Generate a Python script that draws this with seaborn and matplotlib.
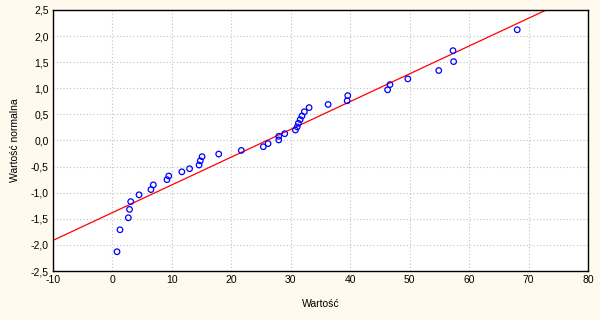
import matplotlib
matplotlib.use("Agg")
import matplotlib.pyplot as plt
import matplotlib.ticker as mticker
import seaborn as sns
import numpy as np
import pandas as pd

wartosc = [0.8, 1.3, 2.7, 2.9, 3.1, 4.5, 6.5, 6.9, 9.2, 9.5, 11.7, 13.0, 14.6, 14.8,
           15.1, 17.9, 21.7, 25.4, 26.2, 28.0, 28.0, 29.0, 30.8, 31.1, 31.3, 31.6,
           31.9, 32.3, 33.1, 36.3, 39.5, 39.6, 46.3, 46.7, 49.7, 54.9, 57.4, 57.3, 68.1]
normalna = [-2.13, -1.71, -1.48, -1.32, -1.17, -1.04, -0.94, -0.85, -0.75, -0.68,
            -0.60, -0.54, -0.47, -0.39, -0.31, -0.26, -0.19, -0.12, -0.06, 0.01,
            0.08, 0.13, 0.20, 0.26, 0.33, 0.40, 0.47, 0.55, 0.63, 0.69, 0.76, 0.86,
            0.97, 1.07, 1.18, 1.34, 1.51, 1.72, 2.12]
# reference line: normal score = (x - mean) / sd
line_mean = 26.0
line_sd = 18.8

df = pd.DataFrame({"x": wartosc, "z": normalna})

sns.set_style("white")
plt.rcParams['font.family'] = ['Liberation Sans', 'DejaVu Sans']
plt.rcParams['axes.unicode_minus'] = False
plt.rcParams['text.color'] = 'black'
plt.rcParams['axes.labelcolor'] = 'black'
plt.rcParams['xtick.color'] = 'black'
plt.rcParams['ytick.color'] = 'black'

fig = plt.figure(figsize=(6, 3.2), dpi=100, facecolor="#fffaed")
ax = fig.add_axes([0.088, 0.153, 0.892, 0.816])
ax.set_facecolor("white")

xl = np.array([-10, 80])
ax.plot(xl, (xl - line_mean) / line_sd, color="#ff0000", lw=0.9, zorder=2)
sns.scatterplot(data=df, x="x", y="z", ax=ax, marker="o", s=16,
                facecolor="none", edgecolor="#0000ff", linewidth=0.9, zorder=3)

ax.set_xlim(-10, 80)
ax.set_ylim(-2.5, 2.5)
ax.set_xticks(range(-10, 81, 10))
ax.set_yticks(np.arange(-2.5, 2.51, 0.5))
ax.yaxis.set_major_formatter(mticker.FuncFormatter(lambda v, p: f"{v:.1f}".replace(".", ",")))
ax.grid(True, color="#c0c0c0", linestyle=(0, (1, 2)), linewidth=0.8)
for s in ax.spines.values():
    s.set_color("black")
    s.set_linewidth(1)
ax.tick_params(labelsize=7.5, length=0, pad=3)
ax.set_xlabel("Wartość", fontsize=7.5, labelpad=10)
ax.set_ylabel("Wartość normalna", fontsize=7.5, labelpad=8)

fig.savefig("out.png", dpi=100, facecolor=fig.get_facecolor())
